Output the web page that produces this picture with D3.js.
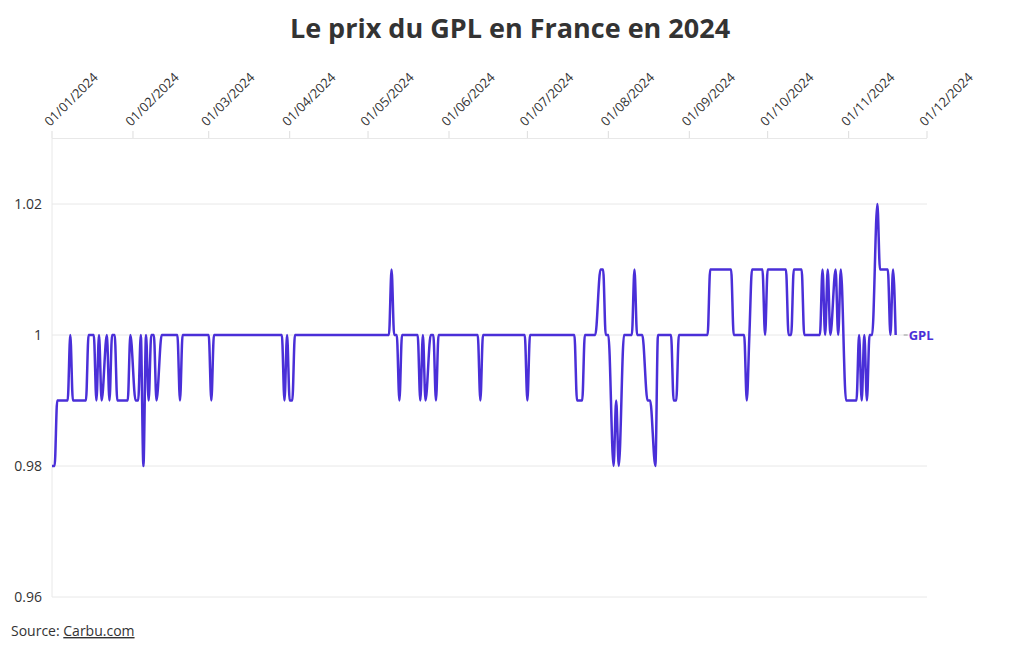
<!DOCTYPE html>
<html>
<head>
<meta charset="utf-8">
<script src="https://cdn.jsdelivr.net/npm/d3@7"></script>
<style>
  body { margin: 0; background: #fff; font-family: "Open Sans", "Noto Sans", sans-serif; }
  svg text { fill: #333; }
</style>
</head>
<body>
<svg id="chart" width="1020" height="650"></svg>
<script>
// days since 01/01/2024 where the price changes (both ends of each plateau)
var days = [0, 1, 2, 6, 7, 8, 13, 14, 16, 17, 18, 19, 21, 22, 23, 24, 25, 29, 30, 32, 33, 34, 35, 36, 37, 38, 39, 40, 42, 48, 49, 50,
  60, 61, 62, 88, 89, 90, 91, 92, 93, 129, 130, 131, 132, 133, 134, 140, 141, 142, 143, 145, 146, 147, 148, 163, 164, 165,
  181, 182, 183, 200, 201, 203, 204, 208, 210, 211, 212, 213, 215, 216, 217, 219, 222, 223, 224, 226, 228, 229, 231, 232,
  237, 238, 239, 240, 251, 252, 260, 261, 265, 266, 267, 268, 272, 273, 274, 281, 282, 283, 284, 287, 288, 294, 295, 296,
  297, 298, 300, 301, 302, 304, 308, 309, 310, 311, 312, 313, 314, 316, 317, 320, 321, 322, 323];
var prices = [0.98, 0.98, 0.99, 0.99, 1, 0.99, 0.99, 1, 1, 0.99, 1, 0.99, 1, 0.99, 1, 1, 0.99, 0.99, 1, 0.99, 0.99, 1, 0.98, 1, 0.99, 1, 1, 0.99, 1, 1, 0.99, 1,
  1, 0.99, 1, 1, 0.99, 1, 0.99, 0.99, 1, 1, 1.01, 1, 1, 0.99, 1, 1, 0.99, 1, 0.99, 1, 1, 0.99, 1, 1, 0.99, 1,
  1, 0.99, 1, 1, 0.99, 0.99, 1, 1, 1.01, 1.01, 1, 1, 0.98, 0.99, 0.98, 1, 1, 1.01, 1, 1, 0.99, 0.99, 0.98, 1,
  1, 0.99, 0.99, 1, 1, 1.01, 1.01, 1, 1, 0.99, 1, 1.01, 1.01, 1, 1.01, 1.01, 1, 1, 1.01, 1.01, 1, 1, 1.01, 1,
  1.01, 1, 1.01, 1, 1.01, 0.99, 0.99, 1, 0.99, 1, 0.99, 1, 1, 1.02, 1.01, 1.01, 1, 1.01, 1];
var yTicks = [0.96, 0.98, 1, 1.02];
var seriesName = 'GPL';

var start = new Date(2024, 0, 1);
var svg = d3.select('#chart');
var color = '#4a2fd8';

var x = d3.scaleTime().domain([start, new Date(2024, 11, 1)]).range([52, 927]);
var y = d3.scaleLinear().domain([0.96, 1.03]).range([597, 138.5]);

svg.append('text')
    .attr('x', 510).attr('y', 38)
    .attr('text-anchor', 'middle')
    .style('font-size', '27px').style('font-weight', 700)
    .text('Le prix du GPL en France en 2024');

// grid
svg.append('g').selectAll('line').data(yTicks.concat([1.03])).join('line')
    .attr('x1', 52).attr('x2', 927)
    .attr('y1', function(d) { return y(d); }).attr('y2', function(d) { return y(d); })
    .attr('stroke', '#e8e8e8');
svg.append('line').attr('x1', 52).attr('x2', 52).attr('y1', 138).attr('y2', 597).attr('stroke', '#e8e8e8');

svg.append('g').selectAll('text').data(yTicks).join('text')
    .attr('x', 42).attr('y', function(d) { return y(d) + 5; })
    .attr('text-anchor', 'end')
    .style('font-size', '14px')
    .text(function(d) { return d3.format('')(d); });

// top month axis
var months = d3.timeMonth.range(start, new Date(2024, 11, 2));
var xt = svg.append('g').selectAll('g').data(months).join('g')
    .attr('transform', function(d) { return 'translate(' + x(d) + ',0)'; });
xt.append('line').attr('y1', 131).attr('y2', 138).attr('stroke', '#ddd');
xt.append('text')
    .attr('transform', 'translate(-2,127) rotate(-45)')
    .style('font-size', '13px')
    .text(d3.timeFormat('%d/%m/%Y'));

var pts = days.map(function(d, i) { return [d3.timeDay.offset(start, d), prices[i]]; });
var line = d3.line()
    .x(function(d) { return x(d[0]); })
    .y(function(d) { return y(d[1]); })
    .curve(d3.curveMonotoneX);
svg.append('path').datum(pts)
    .attr('d', line)
    .attr('fill', 'none').attr('stroke', color).attr('stroke-width', 2.5);

var last = pts[pts.length - 1];
svg.append('line')
    .attr('x1', x(last[0]) + 8).attr('x2', x(last[0]) + 12)
    .attr('y1', y(last[1])).attr('y2', y(last[1]))
    .attr('stroke', '#999');
svg.append('text')
    .attr('x', x(last[0]) + 13).attr('y', y(last[1]) + 5)
    .style('font-size', '13px').style('font-weight', 700).style('fill', color)
    .text(seriesName);

var src = svg.append('text').attr('x', 11).attr('y', 636).style('font-size', '14px');
src.append('tspan').text('Source: ');
src.append('tspan').style('text-decoration', 'underline').text('Carbu.com');
</script>
</body>
</html>
